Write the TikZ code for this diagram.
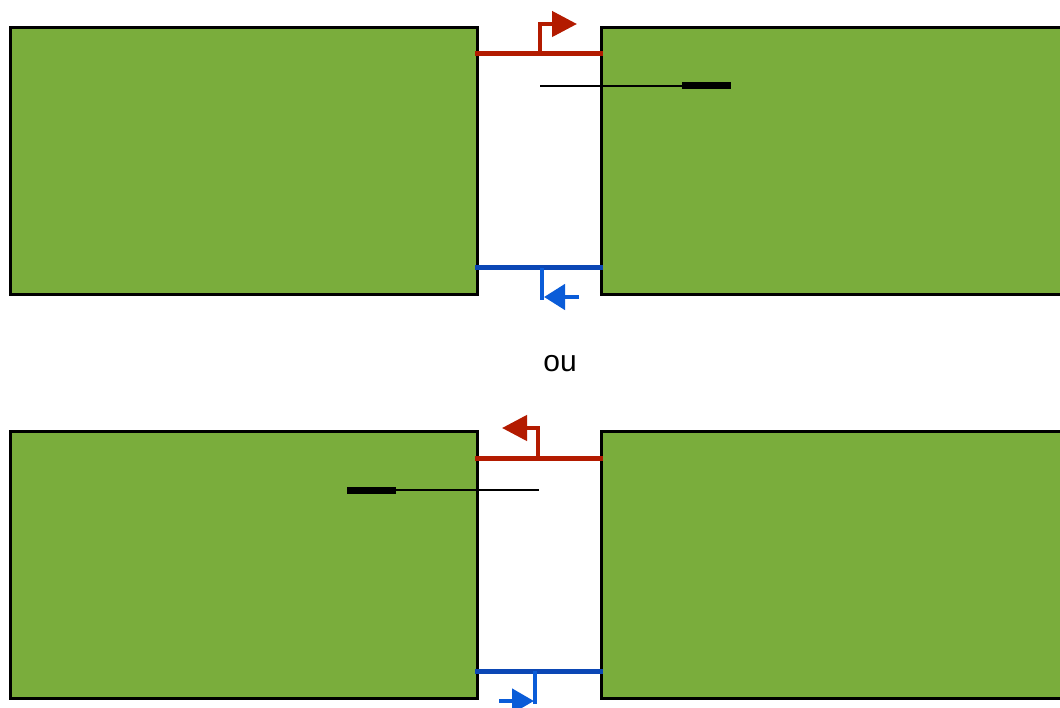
\documentclass[tikz,border=0pt]{standalone}
\usepackage{fontspec}
\setmainfont{Liberation Sans}
\usetikzlibrary{arrows.meta}
\definecolor{grn}{HTML}{7AAD3C}
\definecolor{rd}{HTML}{B31B00}
\definecolor{dblue}{HTML}{0B47B5}
\definecolor{lblue}{HTML}{0A5CD8}
\tikzset{
  block/.style={fill=grn, draw=black, line width=3pt},
  bus/.style={line width=5pt},
  stem/.style={line width=4.5pt, line join=miter},
  thin/.style={line width=2.2pt, black},
  bar/.style={line width=7pt, black},
}
\begin{document}
\begin{tikzpicture}[x=1pt,y=-1pt]
\useasboundingbox (0,0) rectangle (1060,708);
% blocks
\draw[block] (10,28) rectangle (477,295);
\draw[block] (601,28) rectangle (1075,295);
\draw[block] (10,431) rectangle (477,698);
\draw[block] (601,431) rectangle (1075,698);
% top
\draw[thin] (540,86) -- (682,86);
\draw[bar] (682,86) -- (731,86);
\draw[bus, rd] (475,54) -- (603,54);
\draw[stem, rd, -{Triangle[length=25pt,width=25pt]}] (540,56) -- (540,24) -- (577,24);
\draw[bus, dblue] (475,268) -- (603,268);
\draw[stem, lblue] (542,268) -- (542,300);
\draw[stem, lblue, -{Triangle[length=21pt,width=25pt]}] (579,297) -- (544,297);
% ou
\node[font=\fontsize{30}{36}\selectfont] (ou) at (560,364) {ou};
% bottom
\draw[thin] (539,490) -- (396,490);
\draw[bar] (396,490) -- (347,490);
\draw[bus, rd] (475,458) -- (603,458);
\draw[stem, rd, -{Triangle[length=25pt,width=25pt]}] (538,460) -- (538,428) -- (502,428);
\draw[bus, dblue] (475,671) -- (603,671);
\draw[stem, lblue] (535,671) -- (535,704);
\draw[stem, lblue, -{Triangle[length=22pt,width=24pt]}] (499,701) -- (534,701);
\end{tikzpicture}
\end{document}
